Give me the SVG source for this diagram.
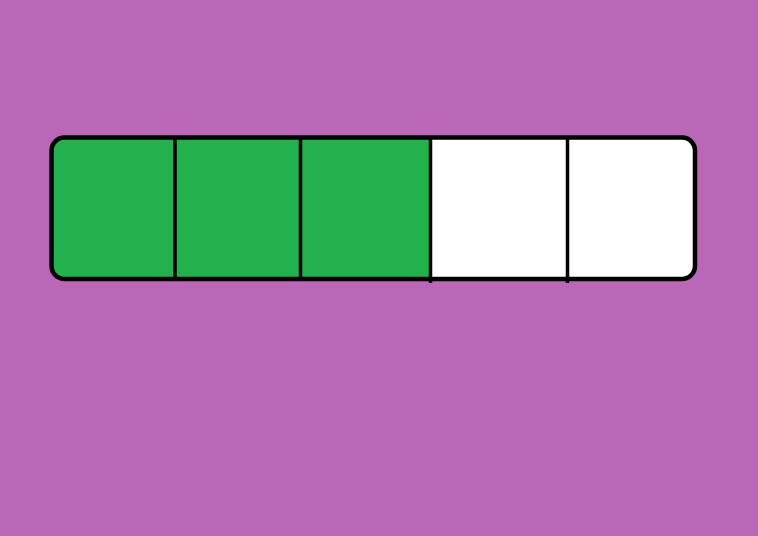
<svg xmlns="http://www.w3.org/2000/svg" width="758" height="536" viewBox="0 0 758 536">
<style>
.div{stroke:#000;stroke-width:3.5;fill:none}
</style>
<defs>
<clipPath id="c"><rect x="51.5" y="137.5" width="643.5" height="141.5" rx="13" ry="13"/></clipPath>
</defs>
<rect width="758" height="536" fill="#BB67B8"/>
<g id="bar">
<g clip-path="url(#c)">
<rect x="40" y="130" width="390" height="160" fill="#23B14D"/>
<rect x="430" y="130" width="280" height="160" fill="#FFFFFF"/>
</g>
</g>
<g id="connectors">
<line class="div" x1="175" y1="138" x2="175" y2="279"/>
<line class="div" x1="300.5" y1="138" x2="300.5" y2="279"/>
<line class="div" x1="430.5" y1="138" x2="430.5" y2="283" stroke-width="4.5"/>
<line class="div" x1="567.5" y1="138" x2="567.5" y2="283" stroke-width="4.5"/>
</g>
<rect x="51.5" y="137.5" width="643.5" height="141.5" rx="13" ry="13" fill="none" stroke="#000" stroke-width="4.5"/>
</svg>
